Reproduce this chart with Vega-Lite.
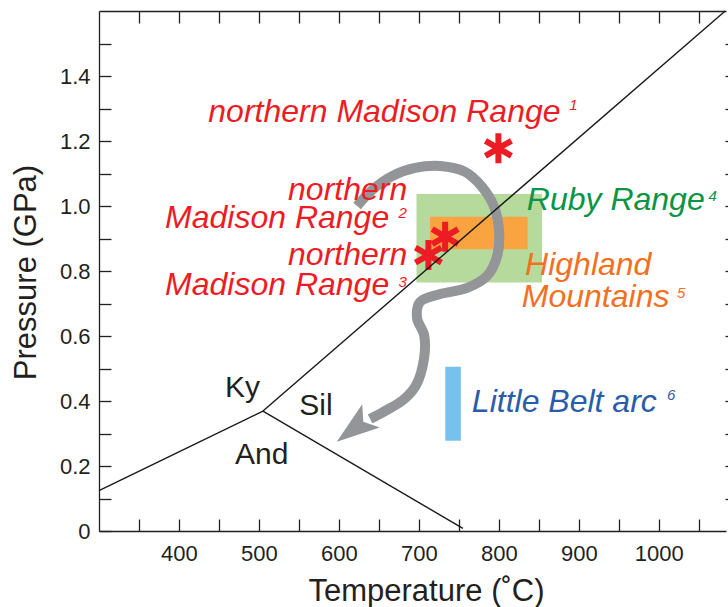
{
  "$schema": "https://vega.github.io/schema/vega-lite/v6.json",
  "width": 627,
  "height": 520,
  "autosize": {"type": "none"},
  "padding": {"left": 99, "top": 11, "right": 2, "bottom": 76},
  "background": "white",
  "config": {"view": {"stroke": null}, "font": "Liberation Sans"},
  "datasets": {
    "boxes": [
      {"box": "Ruby Range", "T1": 697, "T2": 854, "P1": 0.765, "P2": 1.037},
      {"box": "Highland Mountains", "T1": 714, "T2": 836, "P1": 0.867, "P2": 0.967},
      {"box": "Little Belt arc", "T1": 733, "T2": 752.5, "P1": 0.278, "P2": 0.5055}
    ],
    "path": [
      {"i": 1, "T": 622.7, "P": 1.0},
      {"i": 2, "T": 641.5, "P": 1.049},
      {"i": 3, "T": 666.5, "P": 1.092},
      {"i": 4, "T": 695.2, "P": 1.117},
      {"i": 5, "T": 726.5, "P": 1.123},
      {"i": 6, "T": 757.8, "P": 1.105},
      {"i": 7, "T": 777.8, "P": 1.062},
      {"i": 8, "T": 794.1, "P": 0.997},
      {"i": 9, "T": 800.3, "P": 0.92},
      {"i": 10, "T": 797.8, "P": 0.846},
      {"i": 11, "T": 785.3, "P": 0.785},
      {"i": 12, "T": 760.3, "P": 0.748},
      {"i": 13, "T": 726.5, "P": 0.729},
      {"i": 14, "T": 701.5, "P": 0.705},
      {"i": 15, "T": 697.7, "P": 0.655},
      {"i": 16, "T": 706.5, "P": 0.603},
      {"i": 17, "T": 706.5, "P": 0.532},
      {"i": 18, "T": 696.5, "P": 0.449},
      {"i": 19, "T": 680.2, "P": 0.403},
      {"i": 20, "T": 655.2, "P": 0.366},
      {"i": 21, "T": 639.0, "P": 0.345}
    ],
    "arrow": [{"T": 618.7, "P": 0.3145}],
    "stars": [
      {"site": "1", "T": 799.4, "P": 1.1775},
      {"site": "2", "T": 732.8, "P": 0.9055},
      {"site": "3", "T": 711.9, "P": 0.849}
    ],
    "phases": [
      {"b": "Ky-And", "T": 300, "P": 0.124},
      {"b": "Ky-And", "T": 505, "P": 0.369},
      {"b": "And-Sil", "T": 505, "P": 0.369},
      {"b": "And-Sil", "T": 755, "P": 0.008},
      {"b": "Ky-Sil", "T": 505, "P": 0.369},
      {"b": "Ky-Sil", "T": 1083, "P": 1.6}
    ],
    "labels": [
      {"text": "northern Madison Range", "unit": "Madison", "T": 436.7, "P": 1.2575},
      {"text": "northern", "unit": "Madison", "T": 536.4, "P": 1.0185},
      {"text": "Madison Range", "unit": "Madison", "T": 382.6, "P": 0.9338},
      {"text": "northern", "unit": "Madison", "T": 536.4, "P": 0.8185},
      {"text": "Madison Range", "unit": "Madison", "T": 382.6, "P": 0.7262},
      {"text": "Ruby Range", "unit": "Ruby", "T": 834.9, "P": 0.9877},
      {"text": "Highland", "unit": "Highland", "T": 832.8, "P": 0.7877},
      {"text": "Mountains", "unit": "Highland", "T": 828.7, "P": 0.6902},
      {"text": "Little Belt arc", "unit": "LittleBelt", "T": 766.2, "P": 0.367}
    ],
    "phaseLabels": [
      {"text": "Ky", "T": 457.6, "P": 0.4132},
      {"text": "Sil", "T": 550.5, "P": 0.3569},
      {"text": "And", "T": 470.1, "P": 0.2062}
    ],
    "sups": [
      {"text": "1", "unit": "Madison", "T": 887.9, "P": 1.2954},
      {"text": "2", "unit": "Madison", "T": 674.4, "P": 0.9622},
      {"text": "3", "unit": "Madison", "T": 674.4, "P": 0.7517},
      {"text": "4", "unit": "Ruby", "T": 1062.1, "P": 1.0154},
      {"text": "5", "unit": "Highland", "T": 1022.6, "P": 0.716},
      {"text": "6", "unit": "LittleBelt", "T": 1010.1, "P": 0.403}
    ]
  },
  "resolve": {
    "scale": {"color": "independent"},
    "axis": {"x": "independent", "y": "independent"}
  },
  "layer": [
    {
      "data": {"name": "boxes"},
      "mark": {"type": "rect"},
      "encoding": {
        "x": {
          "field": "T1", "type": "quantitative",
          "scale": {"domain": [300, 1084], "nice": false, "zero": false},
          "axis": {
            "orient": "bottom",
            "values": [350, 400, 450, 500, 550, 600, 650, 700, 750, 800, 850, 900, 950, 1000, 1050],
            "labelExpr": "datum.value % 100 === 0 ? format(datum.value, 'd') : ''",
            "tickSize": -12, "tickColor": "#231f20", "tickWidth": 1.3,
            "domainColor": "#231f20", "domainWidth": 1.3,
            "labelFont": "Liberation Sans", "labelFontSize": 22, "labelColor": "#231f20",
            "labelPadding": 24, "labelOverlap": false, "labelFlush": false,
            "grid": false,
            "title": "Temperature (˚C)",
            "titleFont": "Liberation Sans", "titleFontSize": 31, "titleFontWeight": "normal",
            "titleColor": "#231f20", "titleX": 327, "titleY": 69,
            "titleAlign": "center", "titleBaseline": "alphabetic"
          }
        },
        "x2": {"field": "T2"},
        "y": {
          "field": "P1", "type": "quantitative",
          "scale": {"domain": [0, 1.6], "nice": false, "zero": false},
          "axis": {
            "orient": "left",
            "values": [0, 0.1, 0.2, 0.3, 0.4, 0.5, 0.6, 0.7, 0.8, 0.9, 1.0, 1.1, 1.2, 1.3, 1.4, 1.5],
            "labelExpr": "round(datum.value * 10) % 2 === 0 ? (datum.value === 0 ? '0' : format(datum.value, '.1f')) : ''",
            "tickSize": -12, "tickColor": "#231f20", "tickWidth": 1.3,
            "domainColor": "#231f20", "domainWidth": 1.3,
            "labelFont": "Liberation Sans", "labelFontSize": 22, "labelColor": "#231f20",
            "labelPadding": 21, "labelOverlap": false, "labelFlush": false,
            "grid": false,
            "title": "Pressure (GPa)",
            "titleFont": "Liberation Sans", "titleFontSize": 31, "titleFontWeight": "normal",
            "titleColor": "#231f20", "titleX": -64, "titleY": 261, "titleAngle": -90,
            "titleAlign": "center", "titleBaseline": "alphabetic"
          }
        },
        "y2": {"field": "P2"},
        "color": {
          "field": "box", "type": "nominal",
          "scale": {"domain": ["Ruby Range", "Highland Mountains", "Little Belt arc"], "range": ["#b6da9c", "#f9a440", "#76c2ec"]},
          "legend": null
        }
      }
    },
    {
      "data": {"name": "path"},
      "mark": {"type": "line", "color": "#939598", "strokeWidth": 10, "interpolate": "catmull-rom", "strokeCap": "butt"},
      "encoding": {
        "x": {"field": "T", "type": "quantitative", "scale": {"domain": [300, 1084], "nice": false, "zero": false}, "axis": null},
        "y": {"field": "P", "type": "quantitative", "scale": {"domain": [0, 1.6], "nice": false, "zero": false}, "axis": null},
        "order": {"field": "i", "type": "quantitative"}
      }
    },
    {
      "data": {"name": "arrow"},
      "mark": {"type": "point", "shape": "M0,-1L0.68,1L0,0.55L-0.68,1Z", "filled": true, "color": "#939598", "opacity": 1, "size": 1832, "angle": 233},
      "encoding": {
        "x": {"field": "T", "type": "quantitative", "scale": {"domain": [300, 1084], "nice": false, "zero": false}, "axis": null},
        "y": {"field": "P", "type": "quantitative", "scale": {"domain": [0, 1.6], "nice": false, "zero": false}, "axis": null}
      }
    },
    {
      "data": {"name": "stars"},
      "mark": {"type": "point", "shape": "M0,-1L0,1M-0.866,-0.5L0.866,0.5M-0.866,0.5L0.866,-0.5", "filled": false, "color": "#ed1c24", "strokeWidth": 6, "strokeCap": "butt", "opacity": 1, "size": 900},
      "encoding": {
        "x": {"field": "T", "type": "quantitative", "scale": {"domain": [300, 1084], "nice": false, "zero": false}, "axis": null},
        "y": {"field": "P", "type": "quantitative", "scale": {"domain": [0, 1.6], "nice": false, "zero": false}, "axis": null}
      }
    },
    {
      "data": {"name": "phases"},
      "mark": {"type": "line", "color": "#1a1a1a", "strokeWidth": 1.4},
      "encoding": {
        "x": {
          "field": "T", "type": "quantitative",
          "scale": {"domain": [300, 1084], "nice": false, "zero": false},
          "axis": {
            "orient": "top",
            "values": [350, 400, 450, 500, 550, 600, 650, 700, 750, 800, 850, 900, 950, 1000, 1050],
            "labels": false, "tickSize": -12, "tickColor": "#231f20", "tickWidth": 1.3,
            "domainColor": "#231f20", "domainWidth": 1.3, "grid": false, "title": null
          }
        },
        "y": {
          "field": "P", "type": "quantitative",
          "scale": {"domain": [0, 1.6], "nice": false, "zero": false},
          "axis": {
            "orient": "right", "offset": 11,
            "values": [0.1, 0.2, 0.3, 0.4, 0.5, 0.6, 0.7, 0.8, 0.9, 1.0, 1.1, 1.2, 1.3, 1.4, 1.5],
            "labels": false, "tickSize": -12, "tickColor": "#231f20", "tickWidth": 1.3,
            "domainColor": "#231f20", "domainWidth": 1.3, "grid": false, "title": null
          }
        },
        "detail": {"field": "b", "type": "nominal"}
      }
    },
    {
      "data": {"name": "labels"},
      "mark": {"type": "text", "align": "left", "baseline": "alphabetic", "font": "Liberation Sans", "fontStyle": "italic", "fontSize": 32},
      "encoding": {
        "x": {"field": "T", "type": "quantitative", "scale": {"domain": [300, 1084], "nice": false, "zero": false}, "axis": null},
        "y": {"field": "P", "type": "quantitative", "scale": {"domain": [0, 1.6], "nice": false, "zero": false}, "axis": null},
        "text": {"field": "text"},
        "color": {
          "field": "unit", "type": "nominal",
          "scale": {"domain": ["Madison", "Ruby", "Highland", "LittleBelt"], "range": ["#ed1c24", "#0b9444", "#f37021", "#2a5caa"]},
          "legend": null
        }
      }
    },
    {
      "data": {"name": "phaseLabels"},
      "mark": {"type": "text", "align": "left", "baseline": "alphabetic", "font": "Liberation Sans", "fontSize": 30, "color": "#231f20"},
      "encoding": {
        "x": {"field": "T", "type": "quantitative", "scale": {"domain": [300, 1084], "nice": false, "zero": false}, "axis": null},
        "y": {"field": "P", "type": "quantitative", "scale": {"domain": [0, 1.6], "nice": false, "zero": false}, "axis": null},
        "text": {"field": "text"}
      }
    },
    {
      "data": {"name": "sups"},
      "mark": {"type": "text", "align": "left", "baseline": "alphabetic", "font": "Liberation Sans", "fontStyle": "italic", "fontSize": 15},
      "encoding": {
        "x": {"field": "T", "type": "quantitative", "scale": {"domain": [300, 1084], "nice": false, "zero": false}, "axis": null},
        "y": {"field": "P", "type": "quantitative", "scale": {"domain": [0, 1.6], "nice": false, "zero": false}, "axis": null},
        "text": {"field": "text"},
        "color": {
          "field": "unit", "type": "nominal",
          "scale": {"domain": ["Madison", "Ruby", "Highland", "LittleBelt"], "range": ["#ed1c24", "#0b9444", "#f37021", "#2a5caa"]},
          "legend": null
        }
      }
    }
  ]
}
